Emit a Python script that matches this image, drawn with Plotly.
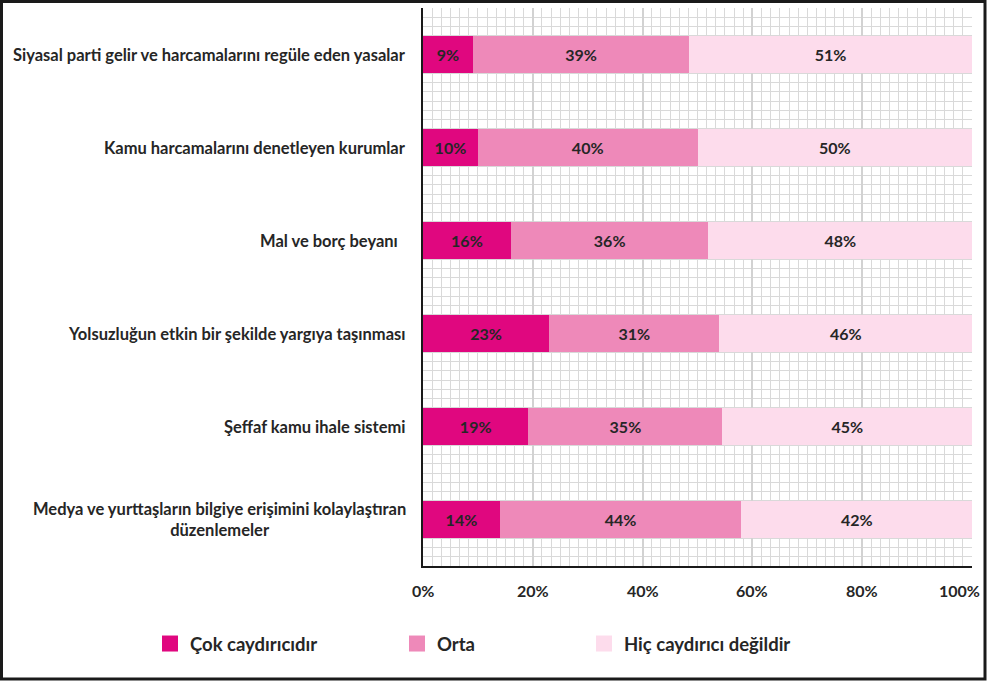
import plotly.graph_objects as go

categories = [
    "Siyasal parti gelir ve harcamalarını regüle eden yasalar",
    "Kamu harcamalarını denetleyen kurumlar",
    "Mal ve borç beyanı\u00a0\u00a0",
    "Yolsuzluğun etkin bir şekilde yargıya taşınması",
    "Şeffaf kamu ihale sistemi",
    "Medya ve yurttaşların bilgiye erişimini kolaylaştıran<br>düzenlemeler",
]
cok = [9, 10, 16, 23, 19, 14]
orta = [39, 40, 36, 31, 35, 44]
hic = [51, 50, 48, 46, 45, 42]
series_names = ["Çok caydırıcıdır", "Orta", "Hiç caydırıcı değildir"]
colors = ["#E0077F", "#EE89B9", "#FDDCEC"]
x_ticks = [0, 20, 40, 60, 80, 100]
x_ticktext = [f"{v}%" for v in x_ticks]

n = len(categories)
ypos = [n - 1 - i for i in range(n)]

FONT = "Lato"
TXT = "#262626"
fig = go.Figure()
for name, vals, col in zip(series_names, [cok, orta, hic], colors):
    fig.add_trace(go.Bar(
        y=ypos, x=vals, orientation="h", name=name,
        marker=dict(color=col, line=dict(width=0)),
        width=0.4,
        text=[f"{v}%" for v in vals], textposition="inside",
        insidetextanchor="middle", textangle=0, constraintext="none",
        textfont=dict(family=FONT, size=16, color=TXT, weight="bold"),
        showlegend=False, hoverinfo="skip",
    ))

W, H = 989, 683
L, R, T, B = 423, 17, 8, 117
pw, ph = W - L - R, H - T - B
def px(xp): return (xp - L) / pw
def py(yp): return (H - B - yp) / ph

legend_left = [163, 410, 597]
for i, (name, col) in enumerate(zip(series_names, colors)):
    lg = "legend" if i == 0 else f"legend{i+1}"
    fig.add_trace(go.Scatter(
        x=[None], y=[None], mode="markers", name=name,
        marker=dict(symbol="square", size=16, color=col, line=dict(width=0)),
        legend=lg, showlegend=True,
    ))

leg_common = dict(orientation="h", y=py(644), yanchor="middle", xanchor="left",
                  font=dict(family=FONT, size=18.5, color=TXT, weight="bold"),
                  bgcolor="rgba(0,0,0,0)", itemwidth=30, tracegroupgap=0)
layout_legs = {}
for i, lx in enumerate(legend_left):
    key = "legend" if i == 0 else f"legend{i+1}"
    layout_legs[key] = dict(leg_common, x=px(lx - 13))

for yv, cat in zip(ypos, categories):
    fig.add_annotation(
        x=0, xref="paper", y=yv, yref="y", text=cat, showarrow=False,
        xanchor="right", yanchor="middle", align="center", xshift=-15,
        font=dict(family=FONT, size=16.5, color=TXT, weight="bold"),
    )

# tick labels as annotations so the last one can sit inside the frame
for v, t in zip(x_ticks, x_ticktext):
    fig.add_annotation(
        x=v, xref="x", y=py(590), yref="paper", text=t, showarrow=False,
        xanchor="center", yanchor="middle", xshift=(-13 if v == x_ticks[-1] else 0),
        font=dict(family=FONT, size=16, color=TXT, weight="bold"),
    )

fig.add_shape(type="rect", xref="paper", yref="paper",
              x0=px(1.5), x1=px(985), y0=py(679), y1=py(1.5),
              line=dict(color="#1a1a1a", width=3), fillcolor="rgba(0,0,0,0)")

fig.update_layout(
    width=W, height=H, margin=dict(l=L, r=R, t=T, b=B, autoexpand=False),
    barmode="stack", barnorm="percent", bargap=0,
    paper_bgcolor="white", plot_bgcolor="white",
    **layout_legs,
    xaxis=dict(range=[0, 100], tickvals=x_ticks, showticklabels=False,
               showgrid=True, gridcolor="#d2d2d2", gridwidth=2,
               minor=dict(dtick=20 / 12, tick0=0, showgrid=True, gridcolor="#d9d9d9", gridwidth=1),
               showline=True, linecolor="#1a1a1a", linewidth=2,
               ticks="", zeroline=False, fixedrange=True),
    yaxis=dict(range=[-0.5, n - 0.5], tickvals=ypos, showticklabels=False,
               showgrid=False,
               minor=dict(dtick=0.1, tick0=-0.5, showgrid=True, gridcolor="#d9d9d9", gridwidth=1),
               showline=True, linecolor="#1a1a1a", linewidth=2.5,
               ticks="", zeroline=False, fixedrange=True),
)

fig.write_html("out.html", config={"displayModeBar": False, "staticPlot": True},
               post_script="document.body.style.margin='0';document.body.style.overflow='hidden';")
